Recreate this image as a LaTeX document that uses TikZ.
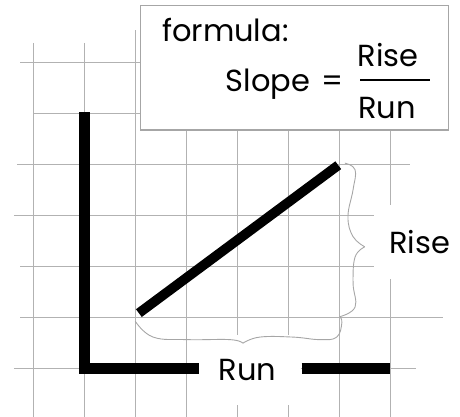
\documentclass[tikz,border=0pt]{standalone}
\usepackage{fontspec}
\setmainfont{Poppins}
\tikzset{
	gridline/.style = {gray!60, line width = 0.6pt},
	thickbar/.style = {black, line width = 0.21cm},
	bracepath/.style = {gray!70, line width = 0.5pt},
	whitelabel/.style = {fill = white, inner sep = 0pt, font = \fontsize{17}{20}\selectfont},
	boxtext/.style = {inner sep = 0pt, anchor = base, font = \fontsize{17}{20}\selectfont}
}
\begin{document}
\begin{tikzpicture} [scale = 1]
	\useasboundingbox (-1.653,-0.955) rectangle (7.367,7.22);
	\foreach \x/\top in {-1/6.38, 0/6.38, 1/6.63, 2/4.7, 3/4.7, 4/4.7, 5/4.7, 6/4.7}
		\draw [gridline] (\x,\top) -- (\x,-0.96);
	\foreach \y/\from/\to in {6/-1.26/2, 5/-1/2, 4/-1.32/6.39, 3/-1.38/6.39, 2/-1.26/6.39, 1/-1.26/7.04, 0/-1.38/6.5}
		\draw [gridline] (\from,\y) -- (\to,\y);
	\node [draw = gray!70, fill = white, line width = 0.6pt, minimum width = 6.03cm, minimum height = 2.45cm, inner sep = 0pt] (formbox) at (4.125,5.895) {};
	\node [boxtext, anchor = base west] (formlabel) at (1.52,6.40) {formula:};
	\node [boxtext, anchor = base west] (slopetxt) at (2.77,5.42) {Slope};
	\node [boxtext] (eqtxt) at (4.87,5.42) {=};
	\node [boxtext] (risenum) at (5.96,5.91) {Rise};
	\node [boxtext] (rundenom) at (5.94,4.90) {Run};
	\coordinate (barl) at (5.41,5.65);
	\coordinate (barr) at (6.78,5.65);
	\draw [line width = 1.1pt] (barl) -- (barr);
	\node [whitelabel, minimum width = 2.1cm, minimum height = 1.37cm] (runlabel) at (3.2,-0.04) {Run};
	\node [whitelabel, minimum width = 1.8cm, minimum height = 1.45cm] (riselabel) at (6.58,2.47) {Rise};
	\draw [thickbar, line join = miter] (0,5.02) -- (0,0) -- (2.25,0);
	\draw [thickbar] (4.26,0) -- (6.0,0);
	\draw [thickbar, line width = 0.19cm] (1.07,1.08) -- (4.98,3.98);
	\draw [bracepath] plot [smooth, tension = 0.7] coordinates {(1.0,0.92) (1.35,0.61) (2.02,0.56) (2.86,0.56) (3.11,0.49)};
	\draw [bracepath] plot [smooth, tension = 0.7] coordinates {(3.11,0.49) (3.44,0.61) (4.09,0.61) (4.62,0.56) (4.95,0.61) (5.05,0.89) (5.01,1.01)};
	\draw [bracepath] plot [smooth, tension = 0.7] coordinates {(5.11,4.02) (5.31,3.89) (5.27,3.50) (5.17,2.97) (5.27,2.58) (5.50,2.38)};
	\draw [bracepath] plot [smooth, tension = 0.7] coordinates {(5.50,2.38) (5.31,2.18) (5.27,1.67) (5.31,1.20) (5.01,1.01)};
\end{tikzpicture}
\end{document}
